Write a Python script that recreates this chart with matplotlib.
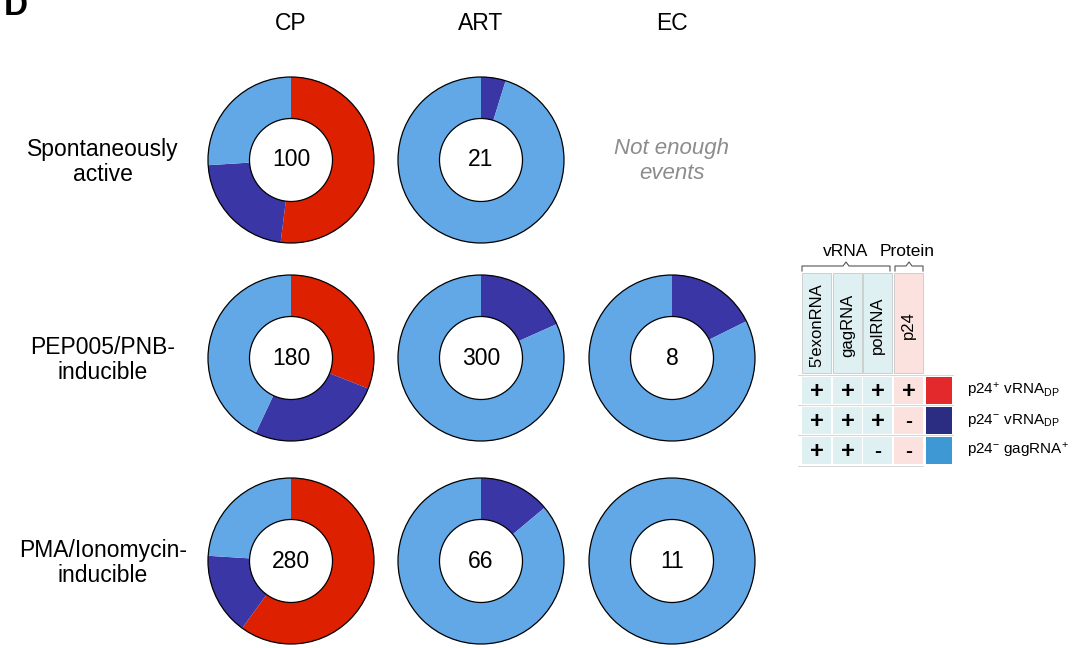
import matplotlib
matplotlib.use("Agg")
import matplotlib.pyplot as plt
from matplotlib.patches import Circle, Rectangle

plt.rcParams['font.family'] = ['Liberation Sans', 'DejaVu Sans']
plt.rcParams['mathtext.fontset'] = 'custom'
plt.rcParams['mathtext.rm'] = 'Liberation Sans'
plt.rcParams['mathtext.it'] = 'Liberation Sans:italic'
plt.rcParams['mathtext.bf'] = 'Liberation Sans:bold'

W, H = 1081, 648

# study groups and stimulation conditions
columns = ["CP", "ART", "EC"]
rows = ["Spontaneously\nactive", "PEP005/PNB-\ninducible", "PMA/Ionomycin-\ninducible"]

# number of events per donut (None = not enough events)
counts = [[100, 21, None],
          [180, 300, 8],
          [280, 66, 11]]

# share of each phenotype (%)
p24pos_vrna_dp = [[52.0, 0.0, None],
                  [31.0, 0.0, 0.0],
                  [60.0, 0.0, 0.0]]
p24neg_vrna_dp = [[22.0, 4.8, None],
                  [26.0, 18.3, 17.7],
                  [16.0, 13.9, 0.0]]
p24neg_gagrna = [[26.0, 95.2, None],
                 [43.0, 81.7, 82.3],
                 [24.0, 86.1, 100.0]]

pie_colors = ["#DD2000", "#3A36A5", "#62A8E6"]

# legend table
marker_cols = ["5'exonRNA", "gagRNA", "polRNA", "p24"]
legend_signs = [["+", "+", "+", "+"],
                ["+", "+", "+", "-"],
                ["+", "+", "-", "-"]]
legend_labels = [r"p24$^{+}$ vRNA$_{\mathregular{DP}}$",
                 r"p24$^{-}$ vRNA$_{\mathregular{DP}}$",
                 r"p24$^{-}$ gagRNA$^{+}$"]
swatch_colors = ["#E4292C", "#2B2D82", "#3E98D4"]

col_x = [291, 481, 672]
row_y = [160, 358, 561]
R = 83

fig = plt.figure(figsize=(W / 100, H / 100), dpi=100)


def px_axes(cx, cy, half):
    return fig.add_axes([(cx - half) / W, 1 - (cy + half) / H, 2 * half / W, 2 * half / H])


lim = 1.06
for i in range(len(rows)):
    for j in range(len(columns)):
        if counts[i][j] is None:
            continue
        ax = px_axes(col_x[j], row_y[i], R * lim)
        vals = [p24pos_vrna_dp[i][j], p24neg_vrna_dp[i][j], p24neg_gagrna[i][j]]
        ax.pie(vals, colors=pie_colors, startangle=90, counterclock=False, radius=1,
               wedgeprops=dict(width=0.5, edgecolor='none', linewidth=0))
        ax.add_patch(Circle((0, 0), 1, fill=False, ec='black', lw=0.9))
        ax.add_patch(Circle((0, 0), 0.5, fill=False, ec='black', lw=0.9))
        ax.text(0, 0, str(counts[i][j]), ha='center', va='center', fontsize=16.5)
        ax.set_xlim(-lim, lim)
        ax.set_ylim(-lim, lim)
        ax.set_aspect('equal')
        ax.axis('off')

# overlay in pixel coordinates for labels and the legend table
ov = fig.add_axes([0, 0, 1, 1], zorder=5)
ov.set_xlim(0, W)
ov.set_ylim(H, 0)
ov.axis('off')
ov.patch.set_alpha(0)

ov.text(4, 15, "D", fontsize=24, fontweight='bold', ha='left', va='baseline')

for j, c in enumerate(columns):
    ov.text(col_x[j], 24, c, ha='center', va='center', fontsize=16.5)
for i, r in enumerate(rows):
    ov.text(103, row_y[i] + 2, r, ha='center', va='center', fontsize=16.5, linespacing=1.1)

ov.text(672, 161, "Not enough\nevents", ha='center', va='center', fontsize=16,
        style='italic', color='#8C8C8C', linespacing=1.25)

# legend table
lx = [802, 833, 863, 894]
lw_ = 29
cell_bg = ["#DFF0F2", "#DFF0F2", "#DFF0F2", "#FCE2DF"]
head_top, head_bot = 273, 373
row_tops = [377, 407, 437]
row_h = 27
for k, name in enumerate(marker_cols):
    ov.add_patch(Rectangle((lx[k], head_top), lw_, head_bot - head_top,
                           fc=cell_bg[k], ec='#C8C8C8', lw=0.6))
    ov.text(lx[k] + lw_ / 2, 325, name, rotation=90, ha='center', va='center', fontsize=12)
    for r in range(3):
        ov.add_patch(Rectangle((lx[k], row_tops[r]), lw_, row_h, fc=cell_bg[k], ec='none'))
        ov.text(lx[k] + lw_ / 2, row_tops[r] + row_h / 2 + 1, legend_signs[r][k],
                ha='center', va='center', fontsize=17 if legend_signs[r][k] == "+" else 15,
                fontweight='bold')
for r in range(3):
    ov.add_patch(Rectangle((926, row_tops[r]), 26, row_h, fc=swatch_colors[r], ec='none'))
    ov.text(967, row_tops[r] + row_h / 2, legend_labels[r], ha='left', va='center', fontsize=11)
    ov.plot([798, 953], [row_tops[r] - 2, row_tops[r] - 2], color='#D0D0D0', lw=0.6)
ov.plot([798, 923], [466, 466], color='#D0D0D0', lw=0.6)

# group braces above the columns
def brace(x0, x1, y):
    xm = (x0 + x1) / 2
    ov.plot([x0, x0, xm - 3, xm, xm + 3, x1, x1], [y + 5, y, y, y - 4, y, y, y + 5],
            color='#555555', lw=0.8)

brace(802, 890, 266)
brace(895, 923, 266)
ov.text(846, 251, "vRNA", ha='center', va='center', fontsize=12.5)
ov.text(907, 251, "Protein", ha='center', va='center', fontsize=12.5)

fig.savefig("out.png", dpi=100)
